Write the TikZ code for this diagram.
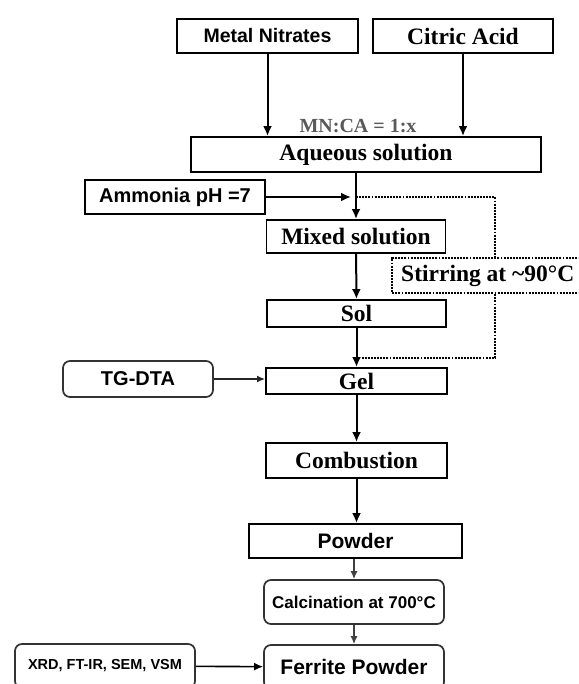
\documentclass[tikz,border=0pt]{standalone}
\usepackage{fontspec}
\setmainfont{Liberation Serif}
\setsansfont{Liberation Sans}
\usetikzlibrary{arrows.meta}

\begin{document}
\begin{tikzpicture}[
    x=1pt, y=-1pt,
    serifbox/.style={draw, line width=1.9pt, inner sep=0pt, font=\fontsize{23.5}{26}\selectfont\bfseries},
    sansbox/.style={draw, line width=1.9pt, inner sep=0pt, font=\sffamily\bfseries\fontsize{20}{22}\selectfont},
    roundbox/.style={sansbox, rounded corners=7pt, line width=1.7pt, draw=black!80},
    arr/.style={line width=2pt, -{Latex[length=10pt,width=9pt]}},
    midarr/.style={line width=1.6pt, -{Latex[length=9pt,width=8pt]}},
    thinarr/.style={line width=1.4pt, draw=black!75, -{Latex[length=8pt,width=7pt]}},
    dots/.style={line width=2.4pt, dash pattern=on 1.9pt off 1.2pt}
]
\useasboundingbox (0,0) rectangle (578,684);
\clip (0,0) rectangle (578,684);

\node[sansbox, minimum width=181pt, minimum height=34pt, font=\sffamily\bfseries\fontsize{19.5}{22}\selectfont] (mn) at (267.5,36) {Metal Nitrates};
\node[serifbox, minimum width=180pt, minimum height=34pt] (ca) at (463,36) {Citric Acid};
\node[serifbox, minimum width=350pt, minimum height=35pt] (aq) at (366,154.5) {Aqueous solution};
\node[font=\fontsize{20}{22}\selectfont\bfseries, text=black!65, anchor=base] (ratio) at (358,133) {MN:CA = 1:x};
\draw[arr] (mn.south) -- (mn.south |- aq.north);
\draw[arr] (ca.south) -- (ca.south |- aq.north);

\node[sansbox, minimum width=180pt, minimum height=34pt] (am) at (175,197) {Ammonia pH =7};
\node[serifbox, minimum width=179pt, minimum height=33pt] (mix) at (356,236.5) {Mixed solution};
\draw[arr] (mix.north |- aq.south) -- (mix.north);
\draw[arr, shorten >=5pt] (am.east) -- (am.east -| mix.north);

\node[serifbox, dots, anchor=west, inner xsep=9pt, minimum height=35pt] (stir) at (391,275.5) {Stirring at \textasciitilde90°C};
\node[serifbox, minimum width=179pt, minimum height=27pt] (sol) at (356.5,313.5) {Sol};
\node[serifbox, minimum width=181pt, minimum height=26pt] (gel) at (356.5,381) {Gel};
\draw[arr] (mix) -- (sol);
\draw[arr] (sol) -- (gel);

\coordinate (sa) at (495,197);
\coordinate (sb) at (495,358);
\draw[dots] (mix.north |- sa) -- (sa) -- (sa |- stir.north);
\draw[dots] (sb |- stir.south) -- (sb) -- (gel.north |- sb);

\node[roundbox, minimum width=150pt, minimum height=36pt] (tg) at (138,379) {TG-DTA};
\draw[thinarr, draw=black!85] (tg.east) -- (tg.east -| gel.west);

\node[serifbox, minimum width=181pt, minimum height=35pt] (comb) at (356.5,460.5) {Combustion};
\node[sansbox, minimum width=213pt, minimum height=34pt, font=\sffamily\bfseries\fontsize{21}{24}\selectfont] (pow) at (355.5,541) {Powder};
\node[roundbox, minimum width=180pt, minimum height=44pt, font=\sffamily\bfseries\fontsize{17}{20}\selectfont] (calc) at (354,602) {Calcination at 700°C};
\node[roundbox, minimum width=180pt, minimum height=44pt, font=\sffamily\bfseries\fontsize{21}{24}\selectfont] (fer) at (354,667) {Ferrite Powder};
\node[roundbox, minimum width=180pt, minimum height=44pt, font=\sffamily\bfseries\fontsize{14.5}{17}\selectfont] (xrd) at (105,666) {XRD, FT-IR, SEM, VSM};
\draw[arr] (gel) -- (comb);
\draw[arr] (comb) -- (comb.south |- pow.north);
\draw[thinarr] (calc.north |- pow.south) -- (calc);
\draw[thinarr] (calc) -- (fer);
\draw[midarr] (xrd) -- (fer);
\end{tikzpicture}
\end{document}
